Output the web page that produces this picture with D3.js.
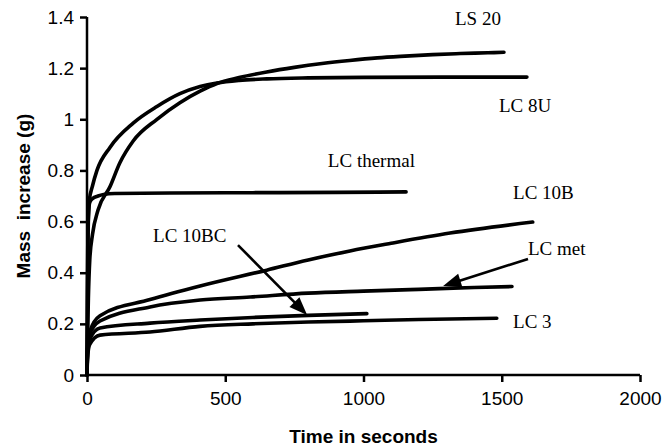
<!DOCTYPE html>
<html><head><meta charset="utf-8">
<script src="https://cdn.jsdelivr.net/npm/d3@7"></script>
<style>
html,body{margin:0;padding:0;background:#fff;}
svg{display:block;}
</style></head>
<body>
<svg id="chart" width="663" height="448"></svg>
<script>
// ---- data (time in s, mass increase in g) ----
const seriesNames = ["LS 20","LC 8U","LC thermal","LC 10B","LC met","LC 10BC","LC 3"];
const ls20T  = [0,2,5,10,20,40,83,119,167,253,336,409,470,550,650,750,850,950,1050,1150,1250,1350,1450,1508];
const ls20M  = [0,0.15,0.3,0.45,0.55,0.645,0.736,0.83,0.915,1.0,1.065,1.11,1.14,1.163,1.185,1.203,1.218,1.23,1.24,1.247,1.253,1.257,1.26,1.262];
const lc8uT  = [0,1,2,4,8,20,36,83,167,253,336,409,470,550,650,800,1000,1300,1591];
const lc8uM  = [0,0.15,0.3,0.55,0.68,0.74,0.8,0.89,0.985,1.05,1.1,1.128,1.142,1.152,1.158,1.162,1.164,1.165,1.165];
const thermT = [0,1,2,5,10,20,40,60,100,300,600,900,1154];
const thermM = [0,0.2,0.4,0.62,0.675,0.69,0.7,0.706,0.71,0.712,0.713,0.714,0.716];
const lc10bT = [0,1,3,10,47,228,409,650,800,951,1100,1313,1612];
const lc10bM = [0,0.06,0.12,0.17,0.232,0.295,0.348,0.41,0.45,0.485,0.515,0.555,0.598];
const metT   = [0,1,3,10,47,228,409,590,800,1000,1200,1400,1537];
const metM   = [0,0.06,0.11,0.16,0.211,0.266,0.293,0.305,0.32,0.328,0.335,0.342,0.346];
const bcT    = [0,1,3,10,47,228,409,600,800,1012];
const bcM    = [0,0.05,0.1,0.14,0.184,0.203,0.215,0.225,0.233,0.24];
const lc3T   = [0,1,3,10,47,228,409,600,800,1000,1200,1482];
const lc3M   = [0,0.04,0.08,0.12,0.156,0.168,0.19,0.2,0.207,0.212,0.217,0.222];

const xTicks = [0,500,1000,1500,2000];
const yTicks = [0,0.2,0.4,0.6,0.8,1,1.2,1.4];

// annotation labels
const labelText = ["LS 20","LC 8U","LC thermal","LC 10B","LC met","LC 10BC","LC 3"];
const labelT    = [1331,1490,1186,1541,1595,239,1541];
const labelM    = [1.369,1.029,0.813,0.688,0.469,0.52,0.184];
const labelAnchor = ["start","start","end","start","start","start","start"];

// arrows: from (t,m) to (t,m)
const arrowFromT = [546,1595];
const arrowFromM = [0.508,0.454];
const arrowToT   = [796,1288];
const arrowToM   = [0.235,0.348];

// ---- drawing ----
const svg = d3.select("#chart");
const x = d3.scaleLinear().domain([0,2000]).range([87,640]);
const y = d3.scaleLinear().domain([0,1.4]).range([375,17]);

const series = [
  [ls20T, ls20M],[lc8uT, lc8uM],[thermT, thermM],[lc10bT, lc10bM],
  [metT, metM],[bcT, bcM],[lc3T, lc3M]
].map(([T,M]) => T.map((t,i)=>({t, m:M[i]})));

const line = d3.line().x(d=>x(d.t)).y(d=>y(d.m)).curve(d3.curveMonotoneX);

svg.append("g").selectAll("path").data(series).join("path")
  .attr("d", line).attr("fill","none").attr("stroke","#000")
  .attr("stroke-width",3.6).attr("stroke-linejoin","round").attr("stroke-linecap","round");

// axes
const xAxis = d3.axisBottom(x).tickValues(xTicks).tickFormat(d3.format("d")).tickSize(7).tickPadding(10);
const yAxis = d3.axisLeft(y).tickValues(yTicks).tickFormat(d3.format("~g")).tickSize(7).tickPadding(6);

const gx = svg.append("g").attr("transform",`translate(0,${y(0)})`).call(xAxis);
const gy = svg.append("g").attr("transform",`translate(${x(0)},0)`).call(yAxis);
[gx,gy].forEach(g=>{
  g.select(".domain").attr("stroke","#000").attr("stroke-width",2.5);
  g.selectAll(".tick line").attr("stroke","#000").attr("stroke-width",2.5);
  g.selectAll(".tick text").attr("fill","#000").style("font-family","'Liberation Sans', Arial, sans-serif").style("font-size","19px");
});
gx.select(".domain").attr("d",`M${x(0)},0H${x(2000)}`);
gy.select(".domain").attr("d",`M0,${y(0)}V${y(1.4)}`);

// axis titles
svg.append("text").attr("x",(x(0)+x(2000))/2).attr("y",443).attr("text-anchor","middle")
  .style("font-family","'Liberation Sans', Arial, sans-serif").style("font-weight","bold").style("font-size","19px")
  .text("Time in seconds");
svg.append("text").attr("transform",`translate(30,196) rotate(-90)`).attr("text-anchor","middle")
  .style("font-family","'Liberation Sans', Arial, sans-serif").style("font-weight","bold").style("font-size","19px")
  .attr("xml:space","preserve").text("Mass  increase (g)");

// labels
svg.append("g").selectAll("text").data(labelText).join("text")
  .attr("x",(d,i)=>x(labelT[i])).attr("y",(d,i)=>y(labelM[i]))
  .attr("text-anchor",(d,i)=>labelAnchor[i])
  .style("font-family","'Liberation Serif','Times New Roman',serif").style("font-size","19px")
  .text(d=>d);

// arrows (drawn as shaft + filled triangular head)
const arrows = arrowFromT.map((t,i)=>({x1:x(t), y1:y(arrowFromM[i]), x2:x(arrowToT[i]), y2:y(arrowToM[i])}));
const ag = svg.append("g");
ag.selectAll("line").data(arrows).join("line")
  .attr("x1",d=>d.x1).attr("y1",d=>d.y1)
  .attr("x2",d=>d.x2 - (d.x2-d.x1)/Math.hypot(d.x2-d.x1,d.y2-d.y1)*10)
  .attr("y2",d=>d.y2 - (d.y2-d.y1)/Math.hypot(d.x2-d.x1,d.y2-d.y1)*10)
  .attr("stroke","#000").attr("stroke-width",2.6);
ag.selectAll("path").data(arrows).join("path")
  .attr("d",d=>{
    const a = Math.atan2(d.y2-d.y1, d.x2-d.x1);
    const L = 18, W = 7;
    const bx = d.x2 - L*Math.cos(a), by = d.y2 - L*Math.sin(a);
    const px = -Math.sin(a)*W, py = Math.cos(a)*W;
    return `M${d.x2},${d.y2}L${bx+px},${by+py}L${bx-px},${by-py}Z`;
  })
  .attr("fill","#000");
</script>
</body></html>
